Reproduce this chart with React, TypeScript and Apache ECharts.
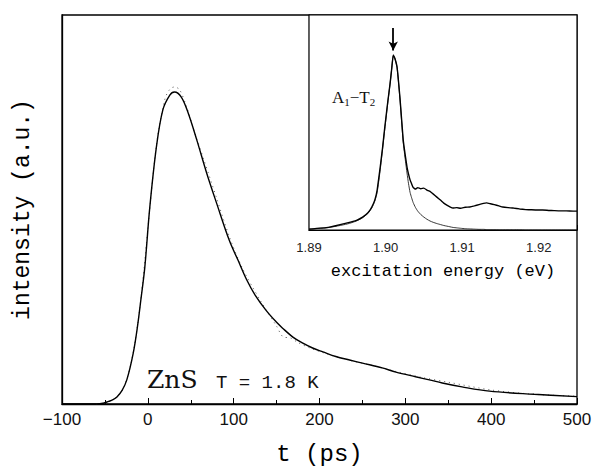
import React, { useEffect, useRef } from "react";
import * as echarts from "echarts";

// Main panel: time-resolved intensity (fit curve)
const fitTime = [-100, -60, -52, -45, -40, -36, -30, -24.5, -17, -12, -8, -3.5, 2.3, 10, 17.5, 25.6, 31, 39, 47, 57, 68.5, 80, 95, 105, 115, 125, 138, 150, 157, 169, 180, 192, 204, 219, 235, 250, 273, 289, 312, 328, 343, 366, 398, 450, 500];
const fitIntensity = [0, 0, 0.002, 0.007, 0.012, 0.018, 0.035, 0.062, 0.131, 0.2, 0.27, 0.352, 0.506, 0.661, 0.756, 0.794, 0.802, 0.789, 0.748, 0.679, 0.594, 0.517, 0.42, 0.37, 0.32, 0.28, 0.24, 0.21, 0.195, 0.172, 0.157, 0.144, 0.134, 0.122, 0.113, 0.105, 0.093, 0.082, 0.07, 0.062, 0.054, 0.044, 0.033, 0.025, 0.019];

// Main panel: measured points (dotted)
const dataTime = [-60, -50, -40, -30, -20, -10, 0, 10, 20, 26, 31, 37, 45, 55, 65, 80, 95, 110, 130, 150, 158, 166, 175, 190, 210, 230, 260, 290, 320, 350, 400, 450, 500];
const dataIntensity = [0, 0.003, 0.012, 0.034, 0.1, 0.235, 0.45, 0.665, 0.785, 0.81, 0.815, 0.808, 0.765, 0.695, 0.63, 0.53, 0.43, 0.35, 0.27, 0.2, 0.172, 0.17, 0.158, 0.143, 0.128, 0.115, 0.1, 0.083, 0.068, 0.056, 0.036, 0.025, 0.02];

// Inset: excitation spectrum
const insetEnergy = [1.89, 1.8925, 1.895, 1.8962, 1.897, 1.8977, 1.8982, 1.8986, 1.8989, 1.8993, 1.8996, 1.8999, 1.9003, 1.9006, 1.9008, 1.901, 1.9012, 1.9015, 1.9019, 1.9023, 1.9026, 1.9028, 1.903, 1.9032, 1.9034, 1.9036, 1.9039, 1.9042, 1.9046, 1.905, 1.9054, 1.9058, 1.9062, 1.9067, 1.9072, 1.9076, 1.908, 1.9084, 1.9088, 1.9093, 1.9098, 1.9104, 1.911, 1.9116, 1.9122, 1.9128, 1.9132, 1.9137, 1.9142, 1.9148, 1.9153, 1.916, 1.9167, 1.9175, 1.9183, 1.919, 1.9198, 1.9205, 1.9213, 1.922, 1.9228, 1.9236, 1.9245, 1.925];
const insetMeasured = [0.004, 0.012, 0.033, 0.045, 0.06, 0.08, 0.107, 0.14, 0.186, 0.293, 0.38, 0.479, 0.6, 0.684, 0.75, 0.814, 0.8, 0.758, 0.605, 0.419, 0.34, 0.293, 0.26, 0.233, 0.215, 0.198, 0.19, 0.197, 0.192, 0.195, 0.186, 0.18, 0.168, 0.153, 0.138, 0.125, 0.116, 0.108, 0.102, 0.104, 0.101, 0.106, 0.107, 0.112, 0.118, 0.124, 0.126, 0.122, 0.118, 0.112, 0.107, 0.104, 0.102, 0.098, 0.095, 0.094, 0.093, 0.093, 0.091, 0.09, 0.089, 0.089, 0.088, 0.088];
const insetFit = [0.004, 0.011, 0.028, 0.042, 0.057, 0.078, 0.102, 0.135, 0.175, 0.28, 0.375, 0.47, 0.595, 0.684, 0.75, 0.81, 0.8, 0.755, 0.6, 0.41, 0.32, 0.265, 0.215, 0.175, 0.15, 0.128, 0.105, 0.088, 0.072, 0.06, 0.05, 0.042, 0.036, 0.03, 0.025, 0.021, 0.018, 0.015, 0.012, 0.01, 0.008, 0.006, 0.005, 0.004, 0.003, 0.003, 0.002, 0.002, 0.002, 0.001, 0.001, 0.001, 0.001, 0.001, 0, 0, 0, 0, 0, 0, 0, 0, 0, 0];
const peakEnergy = 1.901;
const peakArrow = [0.94, 0.835];

const zip = (a: number[], b: number[]) => a.map((v, i) => [v, b[i]]);

export default function App() {
  const ref = useRef<HTMLDivElement>(null);
  useEffect(() => {
    if (!ref.current) return;
    const chart = echarts.init(ref.current, null, { renderer: "svg" });
    const serifMono = "'Liberation Mono', 'Courier New', monospace";
    const sans = "'Liberation Sans', Arial, sans-serif";
    chart.setOption({
      animation: false,
      backgroundColor: "#ffffff",
      grid: [
        { left: 62, right: 20, top: 15, bottom: 72, show: true, borderColor: "#000", borderWidth: 1.3, backgroundColor: "transparent" },
        { left: 309, right: 20, top: 15, bottom: 246, show: true, borderColor: "#000", borderWidth: 1.2, backgroundColor: "#fff", z: 3 },
      ],
      xAxis: [
        {
          gridIndex: 0, type: "value", min: -100, max: 500, interval: 100,
          name: "t (ps)", nameLocation: "middle", nameGap: 38,
          nameTextStyle: { fontFamily: serifMono, fontSize: 24, color: "#000" },
          axisLine: { onZero: false, lineStyle: { color: "#000", width: 1.3 } },
          axisTick: { inside: true, length: 6, lineStyle: { color: "#000" } },
          minorTick: { show: true, splitNumber: 2, length: 4, lineStyle: { color: "#000" } },
          splitLine: { show: false },
          axisLabel: { margin: 7, fontFamily: sans, fontSize: 17, color: "#111", formatter: (v: number) => (v < 0 ? "\u2212" + Math.abs(v) : String(v)) },
        },
        {
          gridIndex: 1, type: "value", min: 1.89, max: 1.925, interval: 0.01,
          name: "excitation energy (eV)", nameLocation: "middle", nameGap: 33,
          nameTextStyle: { fontFamily: serifMono, fontSize: 17, color: "#000" },
          axisLine: { onZero: false, lineStyle: { color: "#000", width: 1.2 } },
          axisTick: { inside: true, length: 5, lineStyle: { color: "#000" } },
          minorTick: { show: true, splitNumber: 2, length: 4, lineStyle: { color: "#000" } },
          splitLine: { show: false },
          axisLabel: { margin: 11, fontFamily: sans, fontSize: 13, color: "#222", showMaxLabel: false, formatter: (v: number) => v.toFixed(2) },
        },
      ],
      yAxis: [
        {
          gridIndex: 0, type: "value", min: 0, max: 1,
          name: "intensity (a.u.)", nameLocation: "middle", nameGap: 28,
          nameTextStyle: { fontFamily: serifMono, fontSize: 23, color: "#000" },
          axisLine: { show: true, onZero: false, lineStyle: { color: "#000", width: 1.3 } },
          axisTick: { show: false }, axisLabel: { show: false }, splitLine: { show: false },
        },
        {
          gridIndex: 1, type: "value", min: 0, max: 1,
          axisLine: { show: true, onZero: false, lineStyle: { color: "#000", width: 1.2 } },
          axisTick: { show: false }, axisLabel: { show: false }, splitLine: { show: false },
        },
      ],
      series: [
        {
          name: "measured", type: "line", xAxisIndex: 0, yAxisIndex: 0, data: zip(dataTime, dataIntensity),
          showSymbol: false, smooth: 0.3, lineStyle: { color: "#555", width: 1, type: [1, 4] }, z: 2,
        },
        {
          name: "fit", type: "line", xAxisIndex: 0, yAxisIndex: 0, data: zip(fitTime, fitIntensity),
          showSymbol: false, smooth: 0.35, lineStyle: { color: "#000", width: 1.4 }, z: 3,
        },
        {
          name: "inset fit", type: "line", xAxisIndex: 1, yAxisIndex: 1, data: zip(insetEnergy, insetFit),
          showSymbol: false, smooth: 0.2, lineStyle: { color: "#222", width: 0.9 }, z: 4,
        },
        {
          name: "inset measured", type: "line", xAxisIndex: 1, yAxisIndex: 1, data: zip(insetEnergy, insetMeasured),
          showSymbol: false, smooth: 0.1, lineStyle: { color: "#000", width: 1.4 }, z: 5,
          markLine: {
            silent: true, symbol: ["none", "arrow"], symbolSize: [7, 9],
            label: { show: false },
            lineStyle: { color: "#000", width: 1.8, type: "solid" },
            data: [[{ coord: [peakEnergy, peakArrow[0]] }, { coord: [peakEnergy, peakArrow[1]] }]],
          },
        },
      ],
      graphic: [
        {
          type: "text", left: 332, top: 89, z: 10,
          style: {
            text: "{a|A}{s|1}{a|\u2212T}{s|2}",
            rich: {
              a: { fontFamily: "'Liberation Serif', serif", fontSize: 17, fill: "#111" },
              s: { fontFamily: "'Liberation Serif', serif", fontSize: 11, fill: "#111", padding: [8, 0, 0, 0] },
            },
          },
        },
        { type: "text", left: 147, top: 367, z: 10, style: { text: "ZnS", fontFamily: "'DejaVu Serif', serif", fontSize: 25, fill: "#111" } },
        { type: "text", left: 216, top: 373, z: 10, style: { text: "T = 1.8 K", fontFamily: serifMono, fontSize: 19, fill: "#111" } },
      ],
    });
    return () => chart.dispose();
  }, []);
  return <div ref={ref} style={{ position: "fixed", left: 0, top: 0, width: 597, height: 476 }} />;
}
